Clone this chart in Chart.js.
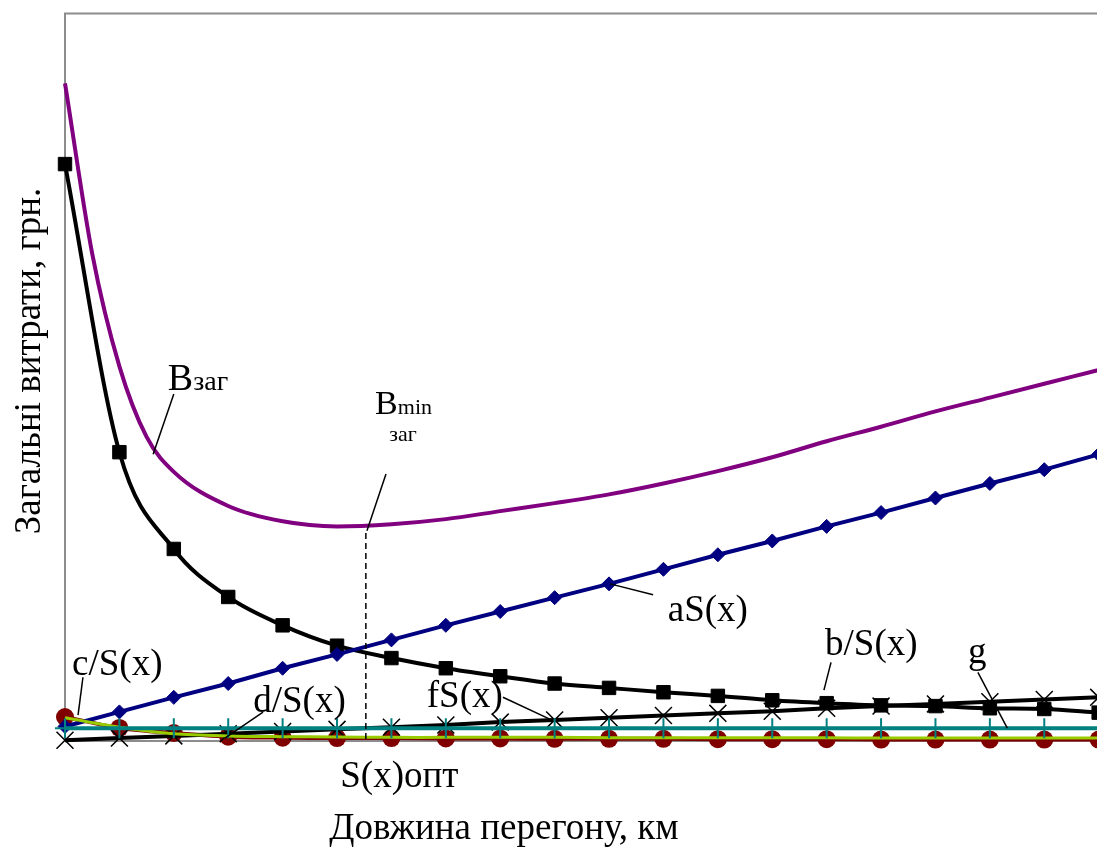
<!DOCTYPE html>
<html>
<head>
<meta charset="utf-8">
<script src="https://cdn.jsdelivr.net/npm/chart.js@4.4.1/dist/chart.umd.min.js"></script>
<style>
  html, body { margin: 0; padding: 0; background: #fff; overflow: hidden; }
  #wrap { width: 1097px; height: 852px; overflow: hidden; }
</style>
</head>
<body>
<div id="wrap"><canvas id="grafik" width="1130" height="852"></canvas></div>
<script>
// Довжина перегону (номер точки)
const jarak = [0, 1, 2, 3, 4, 5, 6, 7, 8, 9, 10, 11, 12, 13, 14, 15, 16, 17, 18, 19];

// b/S(x)
const bS = [79.3, 39.7, 26.4, 19.8, 15.9, 13.1, 11.4, 10.0, 8.9, 7.9, 7.3, 6.7, 6.2, 5.6, 5.2, 4.9, 4.8, 4.5, 4.4, 3.9];
// aS(x)
const aS = [2.0, 4.0, 6.0, 7.9, 10.0, 11.9, 13.9, 15.9, 17.8, 19.7, 21.6, 23.6, 25.6, 27.5, 29.5, 31.4, 33.4, 35.4, 37.3, 39.4];
// c/S(x)
const cS = [3.2, 1.9, 1.0, 0.7, 0.6, 0.55, 0.5, 0.5, 0.5, 0.5, 0.45, 0.45, 0.45, 0.45, 0.45, 0.4, 0.4, 0.4, 0.4, 0.4];
// d/S(x)
const dS = [3.3, 1.8, 1.1, 0.6, 0.45, 0.4, 0.4, 0.35, 0.35, 0.3, 0.3, 0.3, 0.25, 0.25, 0.25, 0.2, 0.2, 0.2, 0.2, 0.2];
// fS(x)
const fS = [0.1, 0.4, 0.7, 1.0, 1.3, 1.6, 1.9, 2.2, 2.6, 2.9, 3.2, 3.5, 3.8, 4.1, 4.5, 4.8, 5.1, 5.4, 5.7, 6.0];
// g
const g = [1.75, 1.75, 1.75, 1.75, 1.75, 1.75, 1.75, 1.75, 1.75, 1.75, 1.75, 1.75, 1.75, 1.75, 1.75, 1.75, 1.75, 1.75, 1.75, 1.75];
// Взаг (гладка крива, без маркерів)
const bZagX = [0, 0.5, 1, 1.5, 2, 3, 4, 5, 6, 7, 8, 9, 10, 11, 12, 13, 14, 15, 16, 17, 18, 19];
const bZag = [90.4, 67.0, 51.5, 41.8, 37.0, 32.3, 30.2, 29.5, 29.8, 30.5, 31.6, 32.7, 33.9, 35.4, 37.1, 39.0, 41.2, 43.2, 45.3, 47.2, 49.1, 51.0];

// S(x)опт і мінімум
const sOpt = 5.53;
const bMin = 28.6;

// підписи: текст, точка тексту, лінія-виноска (в одиницях даних)
const pidpysy = [
  { t: "c/S(x)", x: 0.13, y: 9.03, l: [0.33, 8.76, 0.24, 3.56] },
  { t: "d/S(x)", x: 3.46, y: 3.97, l: [3.64, 3.97, 2.94, 0.41] },
  { t: "fS(x)", x: 6.65, y: 4.65, l: [8.05, 6.02, 8.95, 2.87] },
  { t: "aS(x)", x: 11.08, y: 16.55, l: [10.81, 20.1, 10.02, 21.6] },
  { t: "b/S(x)", x: 13.97, y: 11.76, l: [14.08, 10.8, 13.95, 7.0] },
  { t: "g", x: 16.6, y: 10.67, l: [16.78, 9.44, 17.32, 1.78] },
  { t: "S(x)опт", x: 5.06, y: -6.29, l: null }
];

function xy(xs, ys) {
  return xs.map((x, i) => ({ x: x, y: ys[i] }));
}

const anotasi = {
  id: "anotasi",
  beforeDatasetsDraw(chart) {
    const ctx = chart.ctx;
    const a = chart.chartArea;
    ctx.save();
    ctx.strokeStyle = "#8c8c8c";
    ctx.lineWidth = 2;
    ctx.beginPath();
    ctx.moveTo(a.left, a.bottom);
    ctx.lineTo(a.left, a.top);
    ctx.lineTo(chart.width, a.top);
    ctx.moveTo(a.left, a.bottom);
    ctx.lineTo(chart.width, a.bottom);
    ctx.stroke();
    ctx.restore();
  },
  afterDatasetsDraw(chart) {
    const ctx = chart.ctx;
    const a = chart.chartArea;
    const sx = chart.scales.x, sy = chart.scales.y;
    const px = v => sx.getPixelForValue(v);
    const py = v => sy.getPixelForValue(v);
    ctx.save();
    ctx.fillStyle = "#000";
    ctx.strokeStyle = "#000";
    ctx.textBaseline = "alphabetic";
    ctx.textAlign = "left";

    // пунктир S(x)опт
    ctx.lineWidth = 1.5;
    ctx.setLineDash([6, 4]);
    ctx.beginPath();
    ctx.moveTo(px(sOpt), py(bMin));
    ctx.lineTo(px(sOpt), py(0));
    ctx.stroke();
    ctx.setLineDash([]);

    ctx.font = "37px 'Liberation Serif'";
    pidpysy.forEach(p => {
      ctx.fillText(p.t, px(p.x), py(p.y));
      if (p.l) {
        ctx.beginPath();
        ctx.moveTo(px(p.l[0]), py(p.l[1]));
        ctx.lineTo(px(p.l[2]), py(p.l[3]));
        ctx.stroke();
      }
    });

    // Взаг
    let x0 = px(1.89), y0 = py(48.3);
    ctx.font = "38px 'Liberation Serif'";
    ctx.fillText("B", x0, y0);
    let w = ctx.measureText("B").width;
    ctx.font = "28px 'Liberation Serif'";
    ctx.fillText("заг", x0 + w, y0);
    ctx.beginPath();
    ctx.moveTo(px(2.0), py(47.7));
    ctx.lineTo(px(1.62), py(39.4));
    ctx.stroke();

    // Вmin заг
    x0 = px(5.70); y0 = py(45.0);
    ctx.font = "34px 'Liberation Serif'";
    ctx.fillText("B", x0, y0);
    w = ctx.measureText("B").width;
    ctx.font = "22px 'Liberation Serif'";
    ctx.fillText("min", x0 + w, y0);
    ctx.fillText("заг", px(5.96), py(41.2));
    ctx.beginPath();
    ctx.moveTo(px(5.90), py(36.7));
    ctx.lineTo(px(5.55), py(28.9));
    ctx.stroke();

    // назви осей
    ctx.font = "37px 'Liberation Serif'";
    ctx.textAlign = "center";
    ctx.fillText("Довжина перегону, км", a.left + 439, a.bottom + 98);
    ctx.translate(40, 361);
    ctx.rotate(-Math.PI / 2);
    ctx.fillText("Загальні витрати, грн.", 0, 0);
    ctx.restore();
  }
};

const ctx = document.getElementById("grafik").getContext("2d");
new Chart(ctx, {
  type: "line",
  data: {
    datasets: [
      {
        label: "Взаг",
        data: xy(bZagX, bZag),
        borderColor: "#800080",
        borderWidth: 4,
        pointRadius: 0,
        cubicInterpolationMode: "monotone"
      },
      {
        label: "g",
        data: xy(jarak, g),
        borderColor: "#008080",
        borderWidth: 4,
        pointStyle: "cross",
        pointRadius: 10,
        pointBorderWidth: 2,
        pointBorderColor: "#008080"
      },
      {
        label: "c/S(x)",
        data: xy(jarak, cS),
        borderColor: "#99cc00",
        borderWidth: 3,
        pointRadius: 0,
        tension: 0.3
      },
      {
        label: "aS(x)",
        data: xy(jarak, aS),
        borderColor: "#000080",
        borderWidth: 4,
        pointStyle: "rectRot",
        pointRadius: 7,
        pointBackgroundColor: "#000080",
        pointBorderColor: "#000080",
        pointBorderWidth: 1
      },
      {
        label: "b/S(x)",
        data: xy(jarak, bS),
        borderColor: "#000000",
        borderWidth: 4,
        pointStyle: "rect",
        pointRadius: 9.5,
        pointBackgroundColor: "#000000",
        pointBorderColor: "#000000",
        pointBorderWidth: 1,
        cubicInterpolationMode: "monotone"
      },
      {
        label: "fS(x)",
        data: xy(jarak, fS),
        borderColor: "#000000",
        borderWidth: 4,
        pointStyle: "crossRot",
        pointRadius: 12,
        pointBorderWidth: 1.5,
        pointBorderColor: "#000000"
      },
      {
        label: "d/S(x)",
        data: xy(jarak, dS),
        borderColor: "#800000",
        borderWidth: 4,
        pointStyle: "circle",
        pointRadius: 9,
        pointBackgroundColor: "#800000",
        pointBorderColor: "#800000",
        pointBorderWidth: 0,
        tension: 0.3
      }
    ]
  },
  options: {
    responsive: false,
    animation: false,
    clip: false,
    layout: { padding: { left: 65, top: 10, right: 15, bottom: 111 } },
    plugins: { legend: { display: false }, tooltip: { enabled: false } },
    elements: { line: { fill: false } },
    scales: {
      x: { type: "linear", min: 0, max: 19.3, display: false },
      y: { min: 0, max: 100, display: false }
    }
  },
  plugins: [anotasi]
});
</script>
</body>
</html>
